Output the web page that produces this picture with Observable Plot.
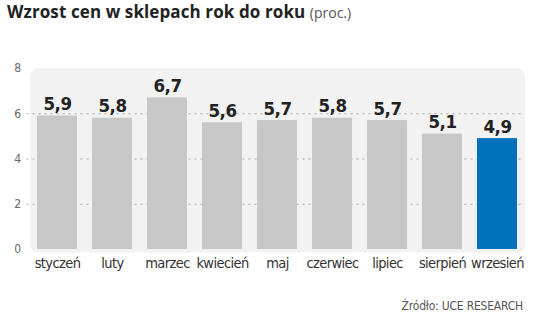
<!DOCTYPE html>
<html><head><meta charset="utf-8">
<script src="https://cdn.jsdelivr.net/npm/d3@7"></script>
<script src="https://cdn.jsdelivr.net/npm/@observablehq/plot@0.6"></script>
<style>
body{margin:0;background:#fff;}
#wrap{position:relative;width:536px;height:317px;overflow:hidden;}
#chart{position:absolute;left:0;top:0;}
#title{position:absolute;left:7px;top:0px;font-family:"Open Sans",sans-serif;font-weight:700;font-size:17px;color:#222;white-space:nowrap;letter-spacing:0.1px;}
#title span{font-weight:400;font-size:14px;color:#555;letter-spacing:0;}
#source{position:absolute;right:13px;top:299px;font-family:"DejaVu Sans Condensed",sans-serif;font-size:12px;color:#555;white-space:nowrap;letter-spacing:-0.2px;}
#chart g[aria-label="x-axis tick label"] text{letter-spacing:-0.6px;}
#chart g[aria-label="text"] text{letter-spacing:-0.5px;}
</style></head><body>
<div id="wrap"><div id="chart"></div>
<div id="title">Wzrost cen w sklepach rok do roku <span>(proc.)</span></div>
<div id="source">Źródło: UCE RESEARCH</div></div>
<script>
const months = ["styczeń","luty","marzec","kwiecień","maj","czerwiec","lipiec","sierpień","wrzesień"];
const values = [5.9, 5.8, 6.7, 5.6, 5.7, 5.8, 5.7, 5.1, 4.9];
const highlight = "wrzesień";
const yTicks = [0, 2, 4, 6, 8];
const gridTicks = [2, 4, 6];
const grayColor = "#c7c7c7";
const blueColor = "#0071bc";

const data = months.map((m, i) => ({month: m, value: values[i]}));
const fmt = v => v.toFixed(1).replace(".", ",");
const narrow = '"DejaVu Sans Condensed",sans-serif';

const chart = Plot.plot({
  width: 536,
  height: 317,
  marginLeft: 29.5,
  marginRight: 11.5,
  marginTop: 68,
  marginBottom: 68,
  style: {fontFamily: narrow, background: "transparent"},
  x: {type: "band", domain: months, paddingInner: 0.273, paddingOuter: 0.136, label: null},
  y: {domain: [0, 8], label: null},
  color: {type: "identity"},
  marks: [
    Plot.frame({fill: "#f2f2f2", stroke: null, rx: 8, insetBottom: -3}),
    Plot.ruleY(gridTicks, {stroke: "#aaa", strokeDasharray: "2,4", insetLeft: -3}),
    Plot.barY(data, {x: "month", y: "value", fill: d => d.month === highlight ? blueColor : grayColor}),
    Plot.text(data, {x: "month", y: "value", text: d => fmt(d.value), dy: -6, lineAnchor: "bottom",
      fontSize: 18.5, fontWeight: "bold", fill: "#222", fontFamily: narrow}),
    Plot.axisY(yTicks, {tickSize: 0, tickPadding: 9, fontSize: 12, fill: "#666", label: null}),
    Plot.axisX({tickSize: 0, tickPadding: 8, fontSize: 14.5, fill: "#333", label: null})
  ]
});
document.getElementById("chart").appendChild(chart);
</script>
</body></html>
